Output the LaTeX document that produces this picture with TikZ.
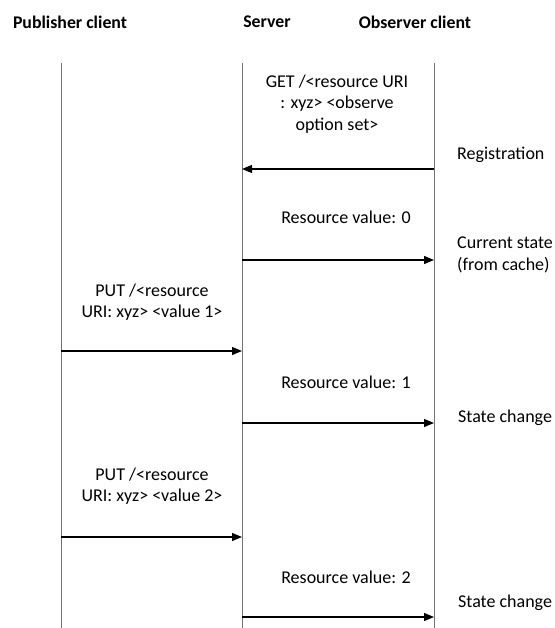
\documentclass[tikz,border=0pt]{standalone}
\usepackage{fontspec}
\setmainfont{Carlito}
\usetikzlibrary{arrows.meta,positioning}

\begin{document}
\begin{tikzpicture}[x=1pt,y=-1pt]
			\tikzstyle{Head}	= [font=\fontsize{17.8}{20}\selectfont\bfseries, inner sep=0pt]
			\tikzstyle{Msg}		= [font=\fontsize{18}{21.5}\selectfont, align=center, inner sep=0pt]
			\tikzstyle{Note}	= [font=\fontsize{18}{22}\selectfont, align=left, anchor=west, inner sep=0pt]
			\tikzstyle{Life}	= [draw=black!55, line width=0.9pt]
			\tikzstyle{Call}	= [-{Triangle[length=10pt,width=8pt]}, line width=1.2pt]

			\useasboundingbox (0,0) rectangle (554,628);

			\node (hp) at (70,22) [Head] {Publisher client};
			\node (hs) at (267,22) [Head] {Server};
			\node (ho) at (415,22) [Head] {Observer client};

			% lifelines
			\coordinate (p0) at (61,63);  \coordinate (p1) at (61,628);
			\coordinate (s0) at (242,63); \coordinate (s1) at (242,628);
			\coordinate (o0) at (434,63); \coordinate (o1) at (434,628);
			\draw [Life] (p0) -- (p1);
			\draw [Life] (s0) -- (s1);
			\draw [Life] (o0) -- (o1);

			% message end points
			\coordinate (reg-o) at (434,169); \coordinate (reg-s) at (242,169);
			\coordinate (rv0-s) at (242,260); \coordinate (rv0-o) at (434,260);
			\coordinate (put1-p) at (61,351); \coordinate (put1-s) at (242,351);
			\coordinate (rv1-s) at (242,423); \coordinate (rv1-o) at (434,423);
			\coordinate (put2-p) at (61,537); \coordinate (put2-s) at (242,537);
			\coordinate (rv2-s) at (242,617); \coordinate (rv2-o) at (434,617);

			\draw [Call] (reg-o) to (reg-s);
			\draw [Call] (rv0-s) to (rv0-o);
			\draw [Call] (put1-p) to (put1-s);
			\draw [Call] (rv1-s) to (rv1-o);
			\draw [Call] (put2-p) to (put2-s);
			\draw [Call] (rv2-s) to (rv2-o);

			% labels
			\node (get) at (337,104) [Msg] {GET /<resource URI\\: xyz> <observe\\option set>};
			\node (rv0) at (346,217) [Msg] {Resource value: 0};
			\node (put1) at (152,302) [Msg] {PUT /<resource\\URI: xyz> <value 1>};
			\node (rv1) at (346,382) [Msg] {Resource value: 1};
			\node (put2) at (152,486) [Msg] {PUT /<resource\\URI: xyz> <value 2>};
			\node (rv2) at (346,577) [Msg] {Resource value: 2};

			\node (reg) at (457,155) [Note] {Registration};
			\node (cur) at (457,255) [Note] {Current state\\(from cache)};
			\node (sc1) at (458,418) [Note] {State change};
			\node (sc2) at (458,603) [Note] {State change};
\end{tikzpicture}
\end{document}
